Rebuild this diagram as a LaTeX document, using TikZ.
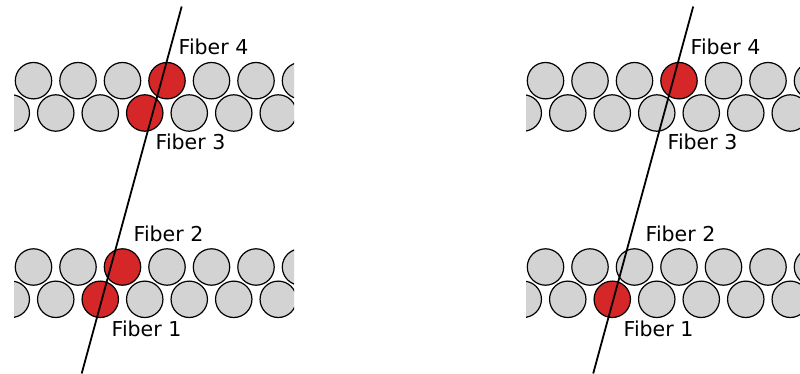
\documentclass[tikz,border=0pt]{standalone}
\usepackage{fontspec}
\setmainfont{DejaVu Sans}
\definecolor{fibergray}{HTML}{D3D3D3}
\definecolor{fiberred}{HTML}{D62728}
\tikzset{
  fiber/.style={draw=black, line width=1.2pt, fill=fibergray},
  hit/.style={draw=black, line width=1.2pt, fill=fiberred},
  ray/.style={draw=black, line width=1.8pt},
  lbl/.style={anchor=base west, inner sep=0pt, font=\fontsize{20.5}{21}\selectfont}
}
\begin{document}
\begin{tikzpicture}[x=1pt,y=-1pt]
\useasboundingbox (0,0) rectangle (800,374);
% ---------- panels ----------
\foreach \px/\ua/\ub/\la/\lb in {0/3/3/2/2, 512/3/-1/-1/2}{
  \begin{scope}[xshift=\px pt]
    \begin{scope}
      \clip (14,0) rectangle (294,374);
      \foreach \yy/\ra/\rb in {0/\ua/\ub, 186.3/\la/\lb}{
        \foreach \i in {0,...,6}{
          \pgfmathsetmacro{\xt}{33.5+44.5*\i}
          \pgfmathsetmacro{\xb}{11.25+44.5*\i}
          \ifnum\i=\ra
            \path[hit] (\xt,80.7+\yy) circle[radius=18.2];
          \else
            \path[fiber] (\xt,80.7+\yy) circle[radius=18.2];
          \fi
          \ifnum\i=\rb
            \path[hit] (\xb,113+\yy) circle[radius=18.2];
          \else
            \path[fiber] (\xb,113+\yy) circle[radius=18.2];
          \fi
        }
      }
    \end{scope}
  \end{scope}
}
% ---------- rays ----------
\coordinate (aTop) at (181.7,6.5);
\coordinate (aBot) at (81.7,373.5);
\coordinate (bTop) at (693.2,6.5);
\coordinate (bBot) at (593.2,373.5);
\draw[ray] (aTop) -- (aBot);
\draw[ray] (bTop) -- (bBot);
% ---------- labels ----------
\node[lbl] (a4) at (178.5,55) {Fiber 4};
\node[lbl] (a3) at (155.5,150) {Fiber 3};
\node[lbl] (a2) at (133.5,241.5) {Fiber 2};
\node[lbl] (a1) at (111.5,336.5) {Fiber 1};
\node[lbl] (b4) at (690.5,55) {Fiber 4};
\node[lbl] (b3) at (667.5,150) {Fiber 3};
\node[lbl] (b2) at (645.5,241.5) {Fiber 2};
\node[lbl] (b1) at (623.5,336.5) {Fiber 1};
\end{tikzpicture}
\end{document}
